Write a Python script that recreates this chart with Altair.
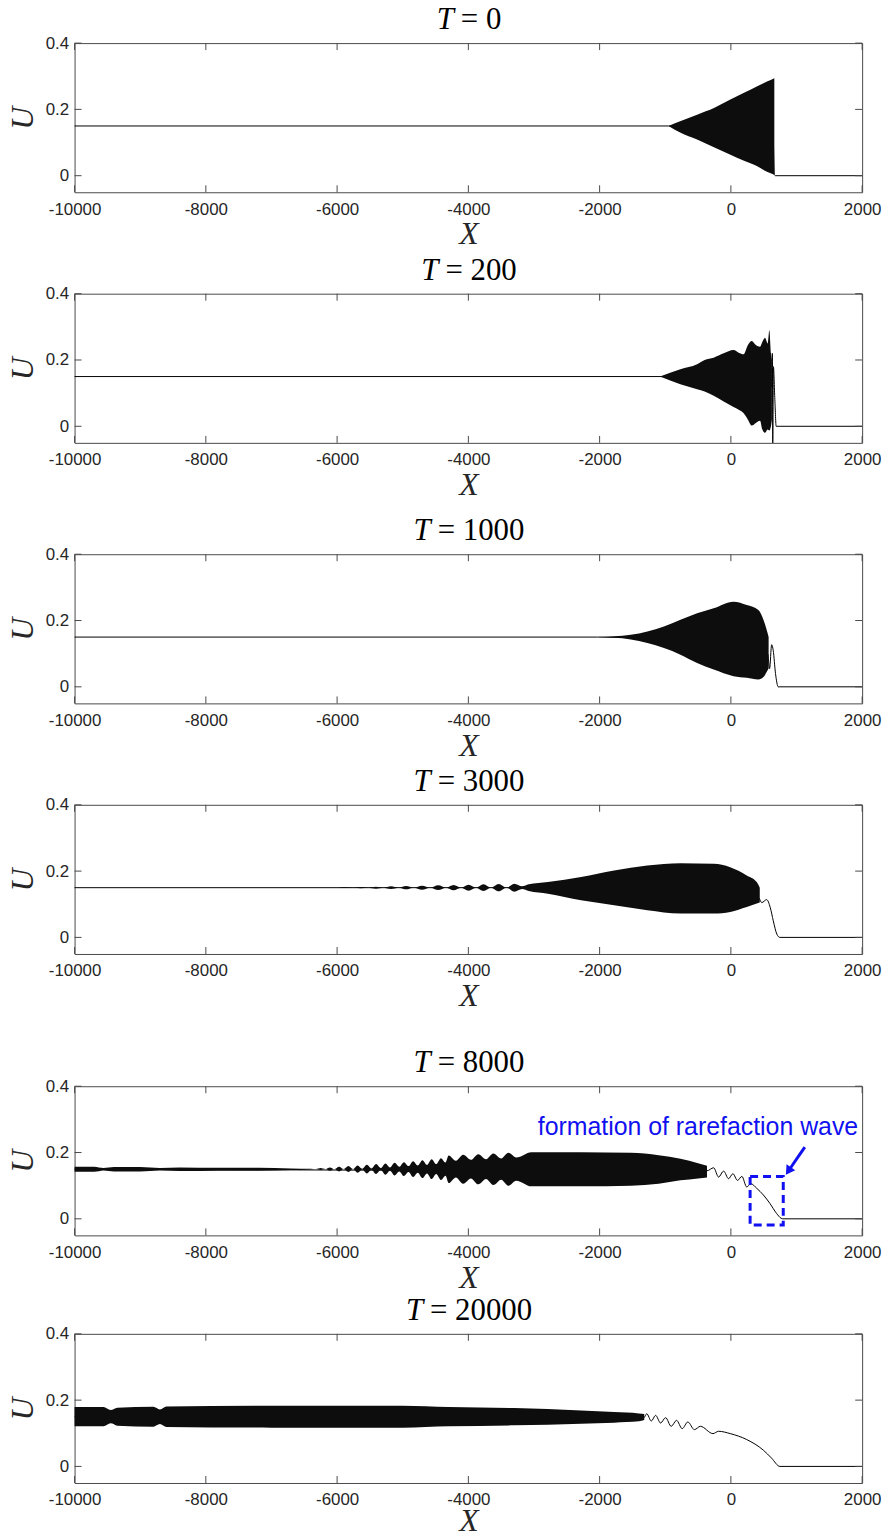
import altair as alt
import pandas as pd

# ---------------- shared axis values ----------------
X_TICKS = [-10000, -8000, -6000, -4000, -2000, 0, 2000]
Y_TICKS = [0, 0.2, 0.4]
TIMES = ["0", "200", "1000", "3000", "8000", "20000"]

# ---------------- T = 0 ----------------
P1_LINE_X = [-10000, -950, 640, 662, 680, 2000]
P1_LINE_Y = [0.15, 0.15, 0.15, 0.003, 0.0, 0.0]
P1_ENV_X = [-950, -773, -515, -250, -15, 200, 394, 550, 662]
P1_ENV_LO = [0.15, 0.13, 0.109, 0.085, 0.064, 0.045, 0.029, 0.012, 0.003]
P1_ENV_HI = [0.15, 0.164, 0.184, 0.205, 0.229, 0.25, 0.269, 0.284, 0.294]

# ---------------- T = 200 ----------------
P2_LINE_X = [-10000, -1080, 620, 632, 638, 648, 670, 690, 2000]
P2_LINE_Y = [0.15, 0.15, 0.12, 0.22, -0.05, 0.18, 0.08, 0.0, 0.0]
P2_ENV_X = [-1080, -770, -515, -400, -262, -110, 40, 120, 192, 260, 318, 380, 444, 480, 520, 560, 586, 610, 625]
P2_ENV_LO = [0.15, 0.127, 0.112, 0.105, 0.092, 0.075, 0.058, 0.05, 0.04, 0.02, 0.002, 0.01, 0.017, -0.01, -0.02, -0.01, -0.013, 0.0, 0.02]
P2_ENV_HI = [0.15, 0.172, 0.187, 0.2, 0.207, 0.22, 0.23, 0.222, 0.217, 0.245, 0.257, 0.245, 0.24, 0.255, 0.267, 0.25, 0.29, 0.22, 0.2]

# ---------------- T = 1000 ----------------
P3_LINE_X = [-10000, -2030, 560, 590, 621, 645, 680, 722, 2000]
P3_LINE_Y = [0.15, 0.15, 0.1, 0.055, 0.127, 0.11, 0.04, 0.0, 0.0]
P3_ENV_X = [-2030, -1525, -1273, -1020, -768, -515, -262, 40, 242, 419, 500, 545, 575]
P3_ENV_LO = [0.15, 0.143, 0.132, 0.117, 0.097, 0.072, 0.052, 0.032, 0.027, 0.022, 0.03, 0.045, 0.055]
P3_ENV_HI = [0.15, 0.157, 0.167, 0.182, 0.202, 0.222, 0.237, 0.257, 0.247, 0.232, 0.2, 0.172, 0.15]

# ---------------- T = 3000 ----------------
P4_LINE_X = [-10000, -3100, 420, 470, 545, 600, 646, 700, 747, 2000]
P4_LINE_Y = [0.15, 0.15, 0.12, 0.105, 0.114, 0.09, 0.05, 0.01, 0.0, 0.0]
P4_ENV_X = [-5983, -5868, -5753, -5638, -5523, -5408, -5293, -5178, -5063, -4948, -4833,
            -4706, -4580, -4459, -4338, -4225, -4111, -3997, -3883, -3770, -3656, -3538,
            -3419, -3300, -3181, -3080, -2788, -2283, -1778, -1273, -768, -262, -10, 242,
            394, 440]
P4_ENV_LO = [0.15, 0.149, 0.15, 0.148, 0.15, 0.147, 0.15, 0.146, 0.15, 0.145, 0.15,
             0.144, 0.15, 0.143, 0.15, 0.142, 0.15, 0.141, 0.15, 0.14, 0.15, 0.139,
             0.15, 0.138, 0.146, 0.14, 0.132, 0.112, 0.097, 0.082, 0.072, 0.072, 0.077, 0.092,
             0.102, 0.105]
P4_ENV_HI = [0.15, 0.151, 0.15, 0.152, 0.15, 0.153, 0.15, 0.154, 0.15, 0.155, 0.15,
             0.156, 0.15, 0.157, 0.15, 0.158, 0.15, 0.159, 0.15, 0.16, 0.15, 0.161,
             0.15, 0.162, 0.154, 0.16, 0.167, 0.182, 0.202, 0.217, 0.224, 0.222, 0.212, 0.187,
             0.167, 0.15]

# ---------------- T = 8000 ----------------
P5_LINE_X = [-10000, -364, -263, -187, -111, -35, 30, 101, 167, 242, 303, 394, 495, 596, 697, 763, 790, 2000]
P5_LINE_Y = [0.15, 0.145, 0.154, 0.126, 0.144, 0.121, 0.136, 0.116, 0.128, 0.096, 0.106, 0.092, 0.072, 0.046, 0.016, 0.002, 0.0, 0.0]
P5_ENV_X = [-10000, -9700, -9560, -9400, -9000, -8700, -8400, -7800, -7200, -6700, -6400,
            -6322, -6252, -6181, -6110, -6040, -5970, -5899, -5828, -5758, -5688, -5617,
            -5546, -5476, -5406, -5335, -5264, -5194, -5124, -5053, -4982, -4912, -4842,
            -4771, -4700, -4630, -4560, -4489, -4418, -4348, -4300, -4190, -4080, -3960,
            -3850, -3730, -3620, -3500, -3390, -3270, -3040, -2283, -1525, -1100, -768,
            -500, -364]
P5_ENV_LO = [0.142, 0.142, 0.146, 0.143, 0.143, 0.146, 0.144, 0.145, 0.145, 0.147, 0.149,
             0.15, 0.147, 0.15, 0.145, 0.15, 0.143, 0.15, 0.141, 0.15, 0.139, 0.149,
             0.137, 0.148, 0.135, 0.147, 0.133, 0.145, 0.131, 0.143, 0.129, 0.141, 0.126,
             0.139, 0.123, 0.137, 0.12, 0.135, 0.117, 0.13, 0.108, 0.125, 0.106, 0.122,
             0.104, 0.12, 0.102, 0.118, 0.1, 0.115, 0.098, 0.098, 0.1, 0.106, 0.116,
             0.122, 0.125]
P5_ENV_HI = [0.157, 0.157, 0.153, 0.156, 0.156, 0.153, 0.155, 0.154, 0.154, 0.152, 0.151,
             0.15, 0.153, 0.15, 0.155, 0.15, 0.157, 0.15, 0.159, 0.15, 0.161, 0.151,
             0.163, 0.152, 0.165, 0.153, 0.167, 0.155, 0.169, 0.157, 0.171, 0.159, 0.174,
             0.161, 0.177, 0.163, 0.18, 0.165, 0.183, 0.17, 0.191, 0.175, 0.193, 0.178,
             0.195, 0.18, 0.197, 0.182, 0.199, 0.185, 0.201, 0.201, 0.199, 0.192, 0.181,
             0.168, 0.16]

# annotation (T = 8000)
NOTE_TEXT = "formation of rarefaction wave"
NOTE_X = [1939]
NOTE_Y = [0.254]
RECT_X = [293, 798]
RECT_Y = [-0.019, 0.128]
ARROW_X = [1126, 889]
ARROW_Y = [0.216, 0.148]

# ---------------- T = 20000 ----------------
P6_LINE_X = [-10000, -1320, -1283, -1212, -1147, -1071, -995, -909, -828, -742, -656, -556,
             -465, -273, -187, -10, 242, 495, 620, 747, 2000]
P6_LINE_Y = [0.15, 0.148, 0.159, 0.137, 0.154, 0.131, 0.147, 0.121, 0.139, 0.114, 0.134, 0.111,
             0.121, 0.099, 0.106, 0.099, 0.081, 0.049, 0.025, 0.0, 0.0]
P6_ENV_X = [-10000, -9560, -9450, -9350, -8800, -8700, -8600, -7000, -5000, -4300, -3300,
            -2283, -1778, -1400, -1320]
P6_ENV_LO = [0.121, 0.121, 0.13, 0.123, 0.12, 0.128, 0.119, 0.117, 0.117, 0.121, 0.124,
             0.129, 0.132, 0.136, 0.14]
P6_ENV_HI = [0.179, 0.179, 0.17, 0.177, 0.18, 0.172, 0.181, 0.183, 0.183, 0.179, 0.176,
             0.169, 0.164, 0.16, 0.158]

SPACINGS = [3, 13, 3, 34, 0]

# ---------------- styling ----------------
W, H = 792, 150
AX = "#4a4a4a"
TXT = "#262626"
BLUE = "#1010f0"
SERIF = "Liberation Serif"
SANS = "Liberation Sans"
TICK = 7
TFS = 31

xs = alt.Scale(domain=[-10000, 2000], nice=False, zero=False)
ys = alt.Scale(domain=[-0.05, 0.4], nice=False, zero=False)


def make_xaxis(title_pad):
    return alt.Axis(values=X_TICKS, labelExpr="'' + datum.value", ticks=False, domain=False,
                    grid=False, labelFont=SANS, labelFontSize=17, labelColor=TXT,
                    labelPadding=9, labelFlush=False, labelOverlap=False,
                    titleFont=SERIF, titleFontStyle="italic", titleFontWeight="normal",
                    titleFontSize=32, titleColor=TXT, titlePadding=title_pad)


yaxis = alt.Axis(values=Y_TICKS, labelExpr="'' + datum.value", ticks=False, domain=False,
                 grid=False, labelFont=SANS, labelFontSize=17, labelColor=TXT,
                 labelPadding=6, labelFlush=False,
                 titleFont=SERIF, titleFontStyle="italic", titleFontWeight="normal",
                 titleFontSize=32, titleColor=TXT, titlePadding=6)


def Y(field):
    return alt.Y(field, scale=ys, axis=yaxis, title="U")


def title_layers(label):
    one = pd.DataFrame({"k": [0]})
    w_t = 0.6 * TFS
    w_rest = TFS * (0.564 + 0.25) + 0.5 * TFS * len(label)
    total = w_t + 7 + w_rest
    x_end = W / 2 - total / 2 + w_t
    t = alt.Chart(one).mark_text(text="T", font=SERIF, fontStyle="italic", fontSize=TFS,
                                 align="right", baseline="alphabetic", color="black").encode(
        x=alt.value(x_end), y=alt.value(-14))
    r = alt.Chart(one).mark_text(text="= " + label, font=SERIF, fontSize=TFS,
                                 align="left", baseline="alphabetic", color="black").encode(
        x=alt.value(x_end + 7), y=alt.value(-14))
    return [t, r]


def panel(label, lx, ly, ex, elo, ehi, extra=None, title_pad=2):
    xaxis = make_xaxis(title_pad)

    def X(field):
        return alt.X(field, scale=xs, axis=xaxis, title="X")

    env = pd.DataFrame({"x": ex, "lo": elo, "hi": ehi})
    line = pd.DataFrame({"x": lx, "y": ly})
    xt = pd.DataFrame({"x": X_TICKS})
    yt = pd.DataFrame({"y": Y_TICKS})
    area = alt.Chart(env).mark_area(color="#0d0d0d", opacity=1, interpolate="monotone").encode(
        x=X("x:Q"), y=Y("lo:Q"), y2="hi:Q")
    ln = alt.Chart(line).mark_line(color="black", strokeWidth=1, interpolate="monotone").encode(
        x=X("x:Q"), y=Y("y:Q"))
    ticks = [
        alt.Chart(xt).mark_rule(color=AX, strokeWidth=1).encode(x=X("x:Q"), y=alt.value(H), y2=alt.value(H - TICK)),
        alt.Chart(xt).mark_rule(color=AX, strokeWidth=1).encode(x=X("x:Q"), y=alt.value(0), y2=alt.value(TICK)),
        alt.Chart(yt).mark_rule(color=AX, strokeWidth=1).encode(y=Y("y:Q"), x=alt.value(0), x2=alt.value(TICK)),
        alt.Chart(yt).mark_rule(color=AX, strokeWidth=1).encode(y=Y("y:Q"), x=alt.value(W), x2=alt.value(W - TICK)),
    ]
    layers = [ln, area] + ticks + title_layers(label)
    if extra:
        layers += [e(X) for e in extra]
    return alt.layer(*layers).properties(width=W, height=H)


# annotation layers (built with the panel's own x channel helper)
def rect_layer(X):
    df = pd.DataFrame({"x": [RECT_X[0]], "x2": [RECT_X[1]], "y": [RECT_Y[0]], "y2": [RECT_Y[1]]})
    return alt.Chart(df).mark_rect(filled=False, stroke=BLUE, strokeWidth=3,
                                   strokeDash=[8, 5]).encode(
        x=X("x:Q"), x2="x2:Q", y=Y("y:Q"), y2="y2:Q")


def arrow_layer(X):
    df = pd.DataFrame({"x": [ARROW_X[0]], "x2": [ARROW_X[1]], "y": [ARROW_Y[0]], "y2": [ARROW_Y[1]]})
    return alt.Chart(df).mark_rule(color=BLUE, strokeWidth=3).encode(
        x=X("x:Q"), x2="x2:Q", y=Y("y:Q"), y2="y2:Q")


def head_layer(X):
    df = pd.DataFrame({"x": [ARROW_X[1]], "y": [ARROW_Y[1]]})
    return alt.Chart(df).mark_point(shape="triangle", filled=True, color=BLUE, opacity=1,
                                    size=110, angle=214).encode(x=X("x:Q"), y=Y("y:Q"))


def note_layer(X):
    df = pd.DataFrame({"x": NOTE_X, "y": NOTE_Y})
    return alt.Chart(df).mark_text(text=NOTE_TEXT, color=BLUE, font=SANS, fontSize=25,
                                   align="right", baseline="alphabetic").encode(
        x=X("x:Q"), y=Y("y:Q"))


panels = [
    panel(TIMES[0], P1_LINE_X, P1_LINE_Y, P1_ENV_X, P1_ENV_LO, P1_ENV_HI),
    panel(TIMES[1], P2_LINE_X, P2_LINE_Y, P2_ENV_X, P2_ENV_LO, P2_ENV_HI),
    panel(TIMES[2], P3_LINE_X, P3_LINE_Y, P3_ENV_X, P3_ENV_LO, P3_ENV_HI),
    panel(TIMES[3], P4_LINE_X, P4_LINE_Y, P4_ENV_X, P4_ENV_LO, P4_ENV_HI),
    panel(TIMES[4], P5_LINE_X, P5_LINE_Y, P5_ENV_X, P5_ENV_LO, P5_ENV_HI,
          extra=[rect_layer, arrow_layer, head_layer, note_layer]),
    panel(TIMES[5], P6_LINE_X, P6_LINE_Y, P6_ENV_X, P6_ENV_LO, P6_ENV_HI, title_pad=-2),
]

chart = panels[0]
for p, s in zip(panels[1:], SPACINGS):
    chart = alt.vconcat(chart, p, spacing=s)

chart = chart.properties(
    padding={"left": 5, "top": -1, "right": 5, "bottom": 2},
    background="white",
).configure_view(stroke=AX, strokeWidth=1)

chart.save("out.html", embed_options={"renderer": "svg", "actions": False})
